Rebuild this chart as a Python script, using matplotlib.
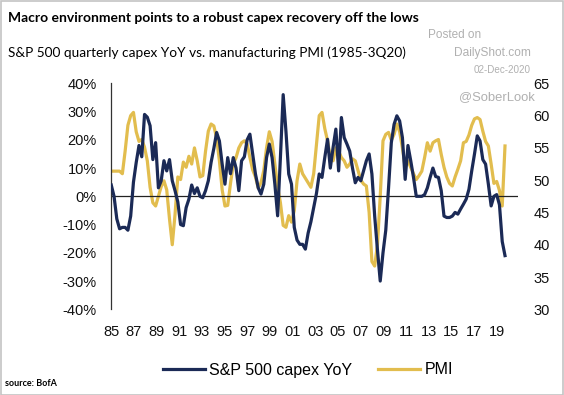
import numpy as np
import pandas as pd
import matplotlib
matplotlib.use("Agg")
import matplotlib.pyplot as plt
from matplotlib import font_manager
from matplotlib.lines import Line2D
from matplotlib.patches import Rectangle

# S&P 500 quarterly capex YoY (%), 1985Q1 - 2020Q3
capex = [
    4, 0, -8, -11.5,          # 1985
    -11, -11, -12, -7,        # 1986
    5, 12, 18, 14,            # 1987
    29, 28, 25, 13,           # 1988
    19, 3, 5.5, 12.6,         # 1989
    9, 13, 5.5, 2,            # 1990
    -2, -10, -10.4, -4,       # 1991
    -1, 4, 1, 3,              # 1992
    0, -0.5, 2, 5.5,          # 1993
    12, 17, 22.6, 19.6,       # 1994
    11.4, 4.3, 13.7, 8,       # 1995
    13.7, 10, 2, 12.6,        # 1996
    14, 20, 22, 15,           # 1997
    7.9, 3, 0.8, 4.3,         # 1998
    13.7, 18.5, 13.7, 4.3,    # 1999
    -6.9, 13.7, 36, 23,       # 2000
    7.9, 4.3, -11, -15.5,     # 2001
    -17, -17, -18.7, -13,     # 2002
    -9, -4, 1, 7.9,           # 2003
    6.7, 13.7, 20.2, 10,      # 2004
    17.3, 23.8, 9, 27.9,      # 2005
    20.8, 18.5, 16, 10,       # 2006
    4.8, 6.7, 5.5, 9,         # 2007
    12.6, 15, 7.9, -7,        # 2008
    -19, -30, -20, -12,       # 2009
    3, 19, 25.5, 28.5,        # 2010
    26.7, 20.8, 6, 18,        # 2011
    12.6, 6.7, 0, 0,          # 2012
    0, 0.6, 3, 6.7,           # 2013
    10, 7, 6.7, 2,            # 2014
    -7, -7.5, -7.5, -7,       # 2015
    -5.7, -6.3, -4.5, -2.8,   # 2016
    -1, 2.5, 9, 15,           # 2017
    21.4, 19.6, 13, 11.4,     # 2018
    4.3, -3.4, 0, 0.6,        # 2019
    -3, -16, -21,             # 2020
]

# ISM manufacturing PMI
pmi = [
    51.4, 51.4, 51.4, 51.4,   # 1985
    51, 54.5, 58.5, 60,       # 1986
    60.5, 57.5, 56, 56.3,     # 1987
    55.1, 53, 48.9, 46.5,     # 1988
    46, 47.5, 49, 49.9,       # 1989
    48.5, 44, 40, 44.7,       # 1990
    50.5, 50.1, 52.8, 52,     # 1991
    53.7, 52.5, 55, 53,       # 1992
    50.5, 50.7, 54.5, 57.6,   # 1993
    58.7, 58.4, 56.5, 53,     # 1994
    48.5, 46, 46.1, 49.5,     # 1995
    52.5, 53.5, 55, 55.8,     # 1996
    56.1, 55.6, 53.5, 51.6,   # 1997
    50.5, 48.8, 49.6, 51.5,   # 1998
    55, 57.5, 56, 52.5,       # 1999
    49, 46.5, 43, 42.7,       # 2000
    44.5, 43.5, 45.3, 49.9,   # 2001
    52.5, 51, 50.3, 49.6,     # 2002
    48.9, 51, 55.5, 60,       # 2003
    60.5, 58, 56.1, 53.5,     # 2004
    53, 55, 54.5, 53.5,       # 2005
    53, 52, 52.5, 53.3,       # 2006
    53, 51.5, 50, 49.4,       # 2007
    49.1, 45, 37.4, 36.7,     # 2008
    40, 47.5, 56.1, 57.1,     # 2009
    57.4, 56.2, 57.1, 58.7,   # 2010
    57.5, 55, 52, 53,         # 2011
    52, 51, 50.1, 50.7,       # 2012
    51.4, 53.5, 55.8, 54.5,   # 2013
    55.8, 56.1, 56.3, 54,     # 2014
    52, 50.5, 49.5, 49.1,     # 2015
    50.5, 51.7, 53, 55.8,     # 2016
    56, 57, 58.5, 59.5,       # 2017
    59.7, 59.4, 57.6, 56,     # 2018
    55.3, 52.5, 49.5, 49.8,   # 2019
    48.4, 46, 55.3,           # 2020
]

year_labels = ["85", "87", "89", "91", "93", "95", "97", "99", "01",
               "03", "05", "07", "09", "11", "13", "15", "17", "19"]

quarters = pd.period_range("1985Q1", "2020Q3", freq="Q")
x = quarters.year + (quarters.quarter - 1) / 4

names = {f.name for f in font_manager.fontManager.ttflist}
narrow = "Liberation Sans Narrow" if "Liberation Sans Narrow" in names else "Liberation Sans"
tick_size = 12.5 if narrow == "Liberation Sans Narrow" else 10.5
leg_size = 13 if narrow == "Liberation Sans Narrow" else 11.5

navy = "#1b2a56"
gold = "#e2bd4e"

fig = plt.figure(figsize=(5.64, 3.95), dpi=100)
ax = fig.add_axes([0.1963, 0.217, 0.9184 - 0.1963, 0.789 - 0.217])
ax2 = ax.twinx()

ax.axhline(0, color="#222222", lw=0.9, zorder=1)
ax.plot(x, capex, color=navy, lw=2.3, zorder=3, solid_joinstyle="round")
ax2.plot(x, pmi, color=gold, lw=2.3, solid_joinstyle="round")

# capex on top of PMI
ax.set_zorder(ax2.get_zorder() + 1)
ax.patch.set_visible(False)

ax.set_xlim(1984.95, 2021.67)
ax.set_ylim(-40, 40)
ax2.set_ylim(30, 65)

ax.set_yticks(np.arange(-40, 41, 10))
ax.set_yticklabels([f"{v}%" for v in range(-40, 41, 10)])
ax2.set_yticks(np.arange(30, 66, 5))

ax.set_xticks(np.linspace(1985.0, 2019.75, len(year_labels)))
ax.set_xticklabels(year_labels)

for a in (ax, ax2):
    for s in ("top", "right", "bottom"):
        a.spines[s].set_visible(False)
ax2.spines["left"].set_visible(False)
ax.spines["left"].set_color("#333333")
ax.spines["left"].set_linewidth(0.9)

ax.tick_params(axis="y", length=0, pad=10, labelsize=tick_size)
ax.tick_params(axis="x", length=0, pad=11, labelsize=tick_size)
ax2.tick_params(axis="y", length=0, pad=11, labelsize=tick_size)
for lab in ax.get_xticklabels() + ax.get_yticklabels() + ax2.get_yticklabels():
    lab.set_fontfamily(narrow)
    lab.set_color("#111111")

# titles
fig.text(8 / 564, 1 - 18 / 395, "Macro environment points to a robust capex recovery off the lows",
         fontsize=10, fontweight="bold", family="Lato", va="center", ha="left")
fig.text(8 / 564, 1 - 53 / 395, "S&P 500 quarterly capex YoY vs. manufacturing PMI (1985-3Q20)",
         fontsize=9.8, family="Lato", va="center", ha="left")

# watermark
wm = "#b0b0b0"
fig.text(428 / 564, 1 - 35 / 395, "Posted on", fontsize=8.5, color=wm,
         family="Liberation Sans", va="center", ha="left")
fig.text(531 / 564, 1 - 53 / 395, "DailyShot.com", fontsize=8.6, color=wm,
         family="Liberation Sans", va="center", ha="right")
fig.text(531 / 564, 1 - 70 / 395, "02-Dec-2020", fontsize=7.1, color=wm,
         family="Liberation Sans", va="center", ha="right")
fig.text(535 / 564, 1 - 97 / 395, "@SoberLook", fontsize=9.4, color=wm,
         family="Liberation Sans", va="center", ha="right")

# legend
handles = [Line2D([], [], color=navy, lw=2.3), Line2D([], [], color=gold, lw=2.3)]
fig.legend(handles, ["S&P 500 capex YoY", "PMI"], loc="center",
           bbox_to_anchor=(308 / 564, 1 - 370 / 395), ncol=2, frameon=False,
           prop={"family": narrow, "size": leg_size}, handlelength=2.6,
           handletextpad=0.3, columnspacing=1.6)

fig.text(5 / 564, 1 - 384 / 395, "source: BofA", fontsize=6.5, fontweight="bold",
         family="Lato", va="center", ha="left")

# outer border
fig.patches.append(Rectangle((0.001, 0.001), 0.997, 0.997, transform=fig.transFigure,
                             fill=False, edgecolor="#c4c4c4", lw=1.2))

fig.savefig("out.png", dpi=100)
